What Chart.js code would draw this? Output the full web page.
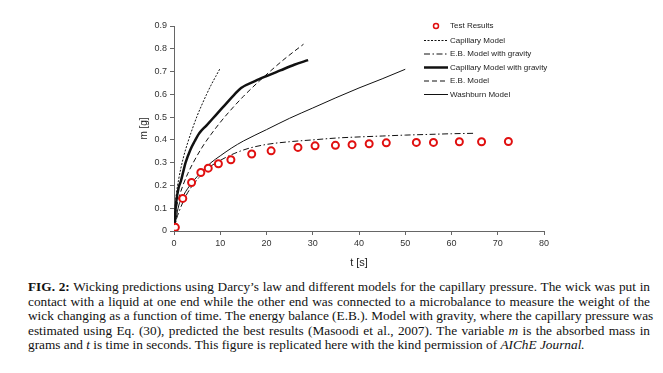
<!DOCTYPE html>
<html>
<head>
<meta charset="utf-8">
<script src="https://cdn.jsdelivr.net/npm/chart.js@4.4.1/dist/chart.umd.min.js"></script>
<style>
    body { margin: 0; background: #fff; width: 663px; height: 373px; overflow: hidden; position: relative; }
    #wrap { position: absolute; left: 0; top: 0; width: 663px; height: 270px; }
    #caption { position: absolute; left: 28px; top: 280px; width: 622px; font-family: "Liberation Serif", "Times New Roman", serif; font-size: 13.3px; line-height: 14.6px; color: #111; }
    #caption div { white-space: nowrap; text-align: justify; text-align-last: justify; }
    #caption div.last { text-align-last: left; }
</style>
</head>
<body>
<div id="wrap"><canvas id="chart"></canvas></div>
<div id="caption">
    <div><b>FIG. 2:</b> Wicking predictions using Darcy’s law and different models for the capillary pressure. The wick was put in</div>
    <div>contact with a liquid at one end while the other end was connected to a microbalance to measure the weight of the</div>
    <div>wick changing as a function of time. The energy balance (E.B.). Model with gravity, where the capillary pressure was</div>
    <div>estimated using Eq. (30), predicted the best results (Masoodi et al., 2007). The variable <i>m</i> is the absorbed mass in</div>
    <div class="last">grams and <i>t</i> is time in seconds. This figure is replicated here with the kind permission of <i>AIChE Journal.</i></div>
</div>
<script>
// measured points
const testTime = [0.3, 1.9, 3.8, 5.8, 7.4, 9.6, 12.3, 16.8, 21.0, 26.8, 30.5, 34.9, 38.5, 42.2, 45.9, 52.4, 56.1, 61.7, 66.5, 72.3];
const testMass = [0.016, 0.143, 0.213, 0.257, 0.276, 0.295, 0.313, 0.338, 0.352, 0.367, 0.374, 0.376, 0.379, 0.383, 0.387, 0.389, 0.389, 0.392, 0.392, 0.393];

// model curves
const capTime = [0, 0.25, 0.5, 1, 2, 3, 4, 5, 6, 7, 8, 9, 10];
const capMass = [0, 0.11, 0.16, 0.226, 0.32, 0.39, 0.45, 0.505, 0.553, 0.598, 0.64, 0.678, 0.715];

const ebgTime = [0, 0.5, 1, 2, 3, 5, 7, 10, 13, 16, 20, 25, 30, 35, 40, 45, 50, 55, 60, 65];
const ebgMass = [0, 0.05, 0.08, 0.13, 0.17, 0.225, 0.27, 0.31, 0.34, 0.362, 0.38, 0.392, 0.4, 0.408, 0.413, 0.417, 0.421, 0.424, 0.427, 0.429];

const capgTime = [0, 0.5, 1, 1.5, 2, 2.5, 3.5, 4.5, 5.5, 7, 9, 11, 13, 14.5, 17.5, 20, 23, 26, 29];
const capgMass = [0.01, 0.13, 0.19, 0.22, 0.26, 0.3, 0.355, 0.395, 0.43, 0.463, 0.508, 0.553, 0.598, 0.628, 0.658, 0.68, 0.705, 0.73, 0.75];

const ebTime = [0, 0.5, 1, 2, 3, 4, 6, 8, 10, 12, 15, 18, 21, 24, 28];
const ebMass = [0, 0.098, 0.142, 0.204, 0.253, 0.294, 0.365, 0.424, 0.477, 0.525, 0.591, 0.65, 0.705, 0.757, 0.82];

const washTime = [0, 1, 2, 4, 6, 8, 10, 12.5, 15, 20, 25, 30, 35, 40, 45, 50];
const washMass = [0, 0.11, 0.155, 0.215, 0.26, 0.3, 0.33, 0.365, 0.395, 0.445, 0.495, 0.54, 0.585, 0.628, 0.668, 0.71];

const xTicks = [0, 10, 20, 30, 40, 50, 60, 70, 80];
const yTicks = [0, 0.1, 0.2, 0.3, 0.4, 0.5, 0.6, 0.7, 0.8, 0.9];

function pts(xs, ys) {
    return xs.map((x, i) => ({ x: x, y: ys[i] }));
}

function lineSet(label, xs, ys, width, dash) {
    return {
        label: label,
        data: pts(xs, ys),
        showLine: true,
        borderColor: '#111',
        borderWidth: width,
        borderDash: dash,
        pointRadius: 0,
        cubicInterpolationMode: 'monotone',
        fill: false
    };
}

const datasets = [
    {
        label: 'Test Results',
        data: pts(testTime, testMass),
        showLine: false,
        pointRadius: 3.5,
        pointBorderWidth: 2,
        pointBorderColor: '#e01010',
        pointBackgroundColor: '#fff',
        borderColor: '#e01010',
        backgroundColor: '#fff'
    },
    lineSet('Capillary Model', capTime, capMass, 1, [2, 1.5]),
    lineSet('E.B. Model with gravity', ebgTime, ebgMass, 1, [6, 2.5, 1.5, 2.5]),
    lineSet('Capillary Model with gravity', capgTime, capgMass, 2.5, []),
    lineSet('E.B. Model', ebTime, ebMass, 1, [5, 3]),
    lineSet('Washburn Model', washTime, washMass, 1, [])
];

// legend drawn inside the plot, top right
const legendPlugin = {
    id: 'insideLegend',
    afterDraw(chart) {
        const ctx = chart.ctx;
        const rowY = [26, 40.5, 54, 67.5, 81, 94.5];
        ctx.save();
        ctx.font = '8px Arial, "Liberation Sans", sans-serif';
        ctx.textBaseline = 'middle';
        ctx.fillStyle = '#222';
        chart.data.datasets.forEach((ds, i) => {
            const y = rowY[i];
            if (ds.showLine) {
                ctx.beginPath();
                ctx.strokeStyle = ds.borderColor;
                ctx.lineWidth = ds.borderWidth;
                ctx.setLineDash(ds.borderDash);
                ctx.moveTo(424, y);
                ctx.lineTo(448, y);
                ctx.stroke();
                ctx.setLineDash([]);
            } else {
                ctx.beginPath();
                ctx.arc(436, y, 2.5, 0, Math.PI * 2);
                ctx.fillStyle = '#fff';
                ctx.fill();
                ctx.lineWidth = 1.5;
                ctx.strokeStyle = ds.pointBorderColor;
                ctx.stroke();
            }
            ctx.fillStyle = '#222';
            ctx.fillText(ds.label, 450, y);
        });
        ctx.restore();
    }
};

const axisFont = { family: 'Arial, "Liberation Sans", sans-serif', size: 9 };

new Chart(document.getElementById('chart'), {
    type: 'scatter',
    data: { datasets: datasets },
    options: {
        responsive: true,
        maintainAspectRatio: false,
        animation: false,
        layout: { padding: { left: 138, top: 26, right: 119, bottom: 0 } },
        plugins: { legend: { display: false }, tooltip: { enabled: false } },
        scales: {
            x: {
                type: 'linear',
                min: 0,
                max: 80,
                afterBuildTicks: (scale) => { scale.ticks = xTicks.map(v => ({ value: v })); },
                afterFit: (scale) => { scale.height = 39; },
                ticks: { font: axisFont, color: '#333', padding: 3, maxRotation: 0 },
                grid: { drawOnChartArea: false, drawTicks: true, tickLength: 4, color: '#666' },
                border: { display: true, color: '#666', width: 1 },
                title: { display: true, text: 't [s]', font: { family: 'Arial, "Liberation Sans", sans-serif', size: 11 }, color: '#222', padding: { top: 3, bottom: 0 } }
            },
            y: {
                type: 'linear',
                min: 0,
                max: 0.9,
                afterBuildTicks: (scale) => { scale.ticks = yTicks.map(v => ({ value: v })); },
                afterFit: (scale) => { scale.width = 36; },
                ticks: {
                    font: axisFont,
                    color: '#333',
                    padding: 3,
                    callback: (v) => v === 0 ? '0' : v.toFixed(1)
                },
                grid: { drawOnChartArea: false, drawTicks: true, tickLength: 4, color: '#666' },
                border: { display: true, color: '#666', width: 1 },
                title: { display: true, text: 'm [g]', font: { family: 'Arial, "Liberation Sans", sans-serif', size: 10 }, color: '#222', padding: 0 }
            }
        }
    },
    plugins: [legendPlugin]
});
</script>
</body>
</html>
